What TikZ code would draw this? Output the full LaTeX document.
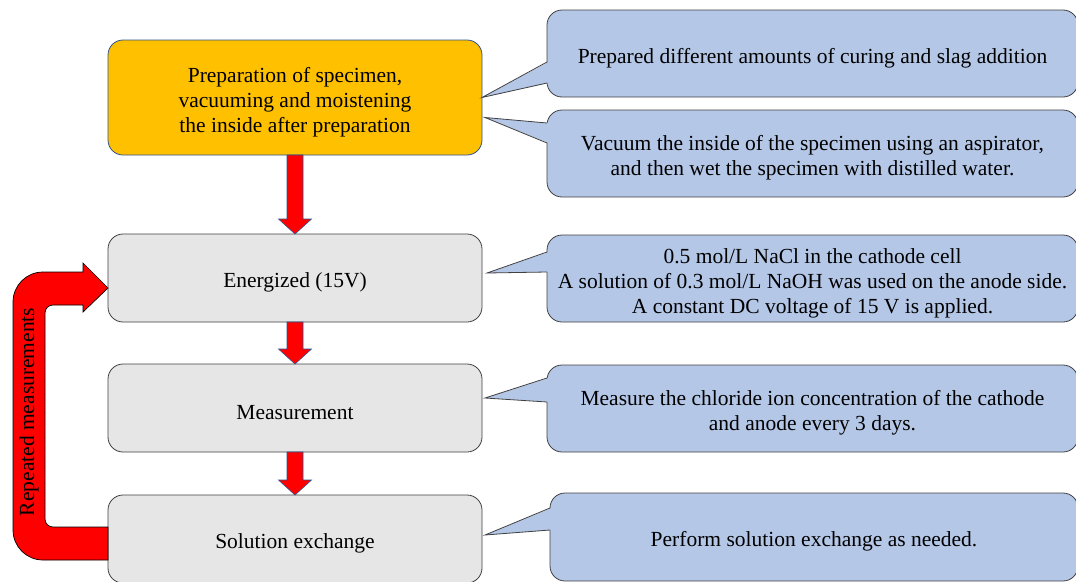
\documentclass[tikz,border=0pt]{standalone}
\usepackage{fontspec}
\setmainfont{Liberation Serif}
\usetikzlibrary{calc}
\definecolor{stepgold}{HTML}{FFC000}
\definecolor{stepgray}{HTML}{E6E6E6}
\definecolor{notefill}{HTML}{B4C7E7}
\definecolor{arrowred}{HTML}{FF0000}
\definecolor{arrowedge}{HTML}{2F528F}
\definecolor{boxedge}{HTML}{404040}
\newcommand*{\BlockArrowDown}[2]{% #1 = upper node, #2 = lower node
\filldraw[blockarrow] ($(#1.south)+(-8,0)$) -- ($(#2.north)+(-8,-15)$)
  -- ++(-8.5,0) -- (#2.north) -- ($(#2.north)+(16.5,-15)$) -- ++(-8.5,0)
  -- ($(#1.south)+(8,0)$) -- cycle;
}
\newcommand*{\CalloutTail}[4]{% #1 = note, #2 = tip, #3/#4 = base offsets from top
\fill[notefill] (#2) -- ($(#1.north west)+(1.5,#3)$)
  -- ($(#1.north west)+(1.5,#4)$) -- cycle;
\draw[noteline] ($(#1.north west)+(0,#3)$) -- (#2) -- ($(#1.north west)+(0,#4)$);
}
\newcommand*{\TopStrut}{\rule{0pt}{24pt}}

\begin{document}
\begin{tikzpicture}[x=1pt,y=-1pt,
    every node/.style={font=\fontsize{21.5}{25}\selectfont},
    stepbox/.style={rectangle, rounded corners=15pt, minimum width=374pt,
      minimum height=88pt, line width=0.8pt, draw=boxedge, fill=stepgray,
      align=center, inner sep=0pt, outer sep=0pt},
    notebox/.style={rectangle, rounded corners=15pt, minimum width=531pt,
      minimum height=87pt, line width=0.8pt, draw=boxedge, fill=notefill,
      align=center, inner sep=0pt, outer sep=0pt},
    noteline/.style={line width=0.8pt, draw=boxedge},
    blockarrow/.style={fill=arrowred, draw=arrowedge, line width=0.6pt},
    looparrow/.style={fill=arrowred, draw=black, line width=0.7pt}]

            \useasboundingbox (0,0) rectangle (1076,581);
            \clip (0,0) rectangle (1076,581);

            % steps
            \node[stepbox, fill=stepgold, draw=arrowedge, minimum height=115pt] (prep) at (295,97.5)
              {\TopStrut Preparation of specimen,\\vacuuming and moistening\\the inside after preparation};
            \node[stepbox] (ener) at (295,278) {\TopStrut Energized (15V)};
            \node[stepbox] (meas) at (295,408) {\TopStrut Measurement};
            \node[stepbox] (sol) at (295,539) {\TopStrut Solution exchange};

            \BlockArrowDown{prep}{ener}
            \BlockArrowDown{ener}{meas}
            \BlockArrowDown{meas}{sol}

            % loop back
            \filldraw[looparrow] ($(sol.west)+(0,21)$) [rounded corners=30pt] -- ++(-95,0)
              -- ++(0,-288) [sharp corners] -- ++(70,0) -- ++(0,-9)
              -- ($(ener.west)+(0,10)$) -- ++(-25,24) -- ++(0,-7)
              [rounded corners=8pt] -- ++(-38,0) -- ++(0,222)
              [sharp corners] -- ($(sol.west)+(0,-12)$) -- cycle;
            \node[rotate=90] (rep) at (29,412) {Repeated measurements};

            % notes
            \node[notebox] (n1) at (812.5,53.5)
              {\TopStrut Prepared different amounts of curing and slag addition};
            \node[notebox] (n2) at (812.5,153.5)
              {\TopStrut Vacuum the inside of the specimen using an aspirator,\\and then wet the specimen with distilled water.};
            \node[notebox] (n3) at (812.5,278.5)
              {\TopStrut 0.5 mol/L NaCl in the cathode cell\\A solution of 0.3 mol/L NaOH was used on the anode side.\\A constant DC voltage of 15 V is applied.};
            \node[notebox] (n4) at (812.5,408.5)
              {\TopStrut Measure the chloride ion concentration of the cathode\\and anode every 3 days.};
            \node[notebox, minimum width=528pt, minimum height=88pt] (n5) at (814,537)
              {\TopStrut Perform solution exchange as needed.};

            \CalloutTail{n1}{prep.east}{52}{73}
            \CalloutTail{n2}{$(prep.east)+(3,20)$}{13}{33}
            \CalloutTail{n3}{$(ener.east)+(5,-5)$}{17}{37}
            \CalloutTail{n4}{$(meas.east)+(3,-10)$}{13}{37}
            \CalloutTail{n5}{$(sol.east)+(3,-4)$}{15}{37}
        \end{tikzpicture}
\end{document}
